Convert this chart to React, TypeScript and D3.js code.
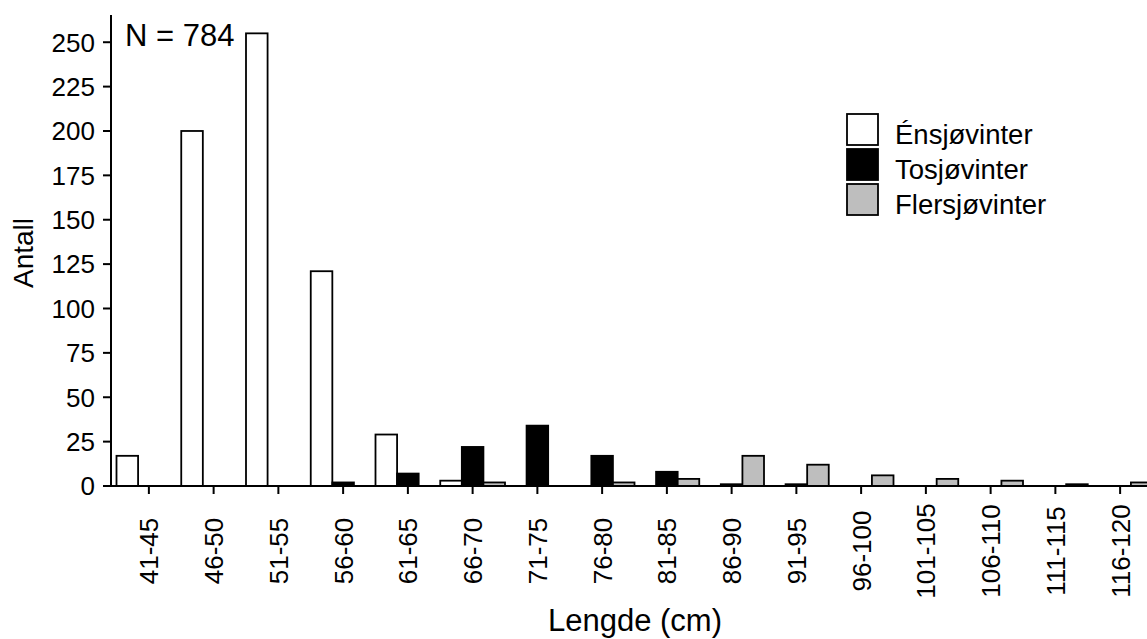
import * as d3 from "d3";

const categories = [
  "41-45", "46-50", "51-55", "56-60", "61-65", "66-70", "71-75", "76-80",
  "81-85", "86-90", "91-95", "96-100", "101-105", "106-110", "111-115", "116-120",
];
const seriesNames = ["Énsjøvinter", "Tosjøvinter", "Flersjøvinter"];
const seriesColors = ["#ffffff", "#000000", "#bebebe"];
const ensjo = [17, 200, 255, 121, 29, 3, 0, 0, 0, 0, 0, 0, 0, 0, 0, 0];
const tosjo = [0, 0, 0, 2, 7, 22, 34, 17, 8, 1, 1, 0, 0, 0, 0, 0];
const flersjo = [0, 0, 0, 0, 0, 2, 0, 2, 4, 17, 12, 6, 4, 3, 1, 2];
const yTicks = [0, 25, 50, 75, 100, 125, 150, 175, 200, 225, 250];

const W = 1147;
const H = 639;
const FONT = "'Liberation Sans', Arial, sans-serif";

export default function App() {
  const seriesValues = [ensjo, tosjo, flersjo];

  const x = d3.scaleBand<string>().domain(categories).range([116.5, 1152.5]).padding(0);
  const xInner = d3
    .scaleBand<string>()
    .domain(seriesNames)
    .range([0, x.bandwidth()])
    .padding(0);
  const y = d3.scaleLinear().domain([0, 265]).range([486, 15.6]);

  const axisX = 111;
  const y0 = y(0);

  return (
    <div style={{ position: "absolute", left: 0, top: 0 }}>
      <svg width={W} height={H} style={{ display: "block", background: "#fff" }} fontFamily={FONT}>
        {/* bars */}
        {seriesNames.map((name, si) => (
          <g key={name}>
            {categories.map((c, ci) => {
              const v = seriesValues[si][ci];
              if (!v) return null;
              return (
                <rect
                  key={c}
                  x={x(c)! + xInner(name)!}
                  y={y(v)}
                  width={xInner.bandwidth()}
                  height={y0 - y(v)}
                  fill={seriesColors[si]}
                  stroke="#000"
                  strokeWidth={1.8}
                />
              );
            })}
          </g>
        ))}

        {/* y axis */}
        <line x1={axisX} x2={axisX} y1={15} y2={y0} stroke="#000" strokeWidth={2} />
        {yTicks.map((t) => (
          <g key={t}>
            <line x1={103} x2={axisX} y1={y(t)} y2={y(t)} stroke="#000" strokeWidth={2} />
            <text x={95} y={y(t)} dy="0.36em" textAnchor="end" fontSize={26} fill="#000">
              {t}
            </text>
          </g>
        ))}

        {/* x axis */}
        <line x1={103} x2={W} y1={y0} y2={y0} stroke="#000" strokeWidth={2} />
        {categories.map((c) => {
          const cx = x(c)! + x.bandwidth() / 2;
          return (
            <g key={c}>
              <line x1={cx} x2={cx} y1={y0} y2={y0 + 8} stroke="#000" strokeWidth={2} />
              <text
                transform={`translate(${cx},551) rotate(-90)`}
                dy="0.36em"
                textAnchor="middle"
                fontSize={26}
                fill="#000"
              >
                {c}
              </text>
            </g>
          );
        })}

        {/* axis titles */}
        <text x={635} y={631} textAnchor="middle" fontSize={31} fill="#000">
          Lengde (cm)
        </text>
        <text
          transform="translate(23,253) rotate(-90)"
          dy="0.36em"
          textAnchor="middle"
          fontSize={28}
          fill="#000"
        >
          Antall
        </text>

        {/* N label */}
        <text x={125} y={45.5} fontSize={31} fill="#000">
          N = 784
        </text>

        {/* legend */}
        {seriesNames.map((name, i) => (
          <g key={name} transform={`translate(847,${114 + i * 35})`}>
            <rect width={31} height={31} fill={seriesColors[i]} stroke="#000" strokeWidth={1.8} />
            <text x={48} y={30} fontSize={27.5} fill="#000">
              {name}
            </text>
          </g>
        ))}
      </svg>
    </div>
  );
}
